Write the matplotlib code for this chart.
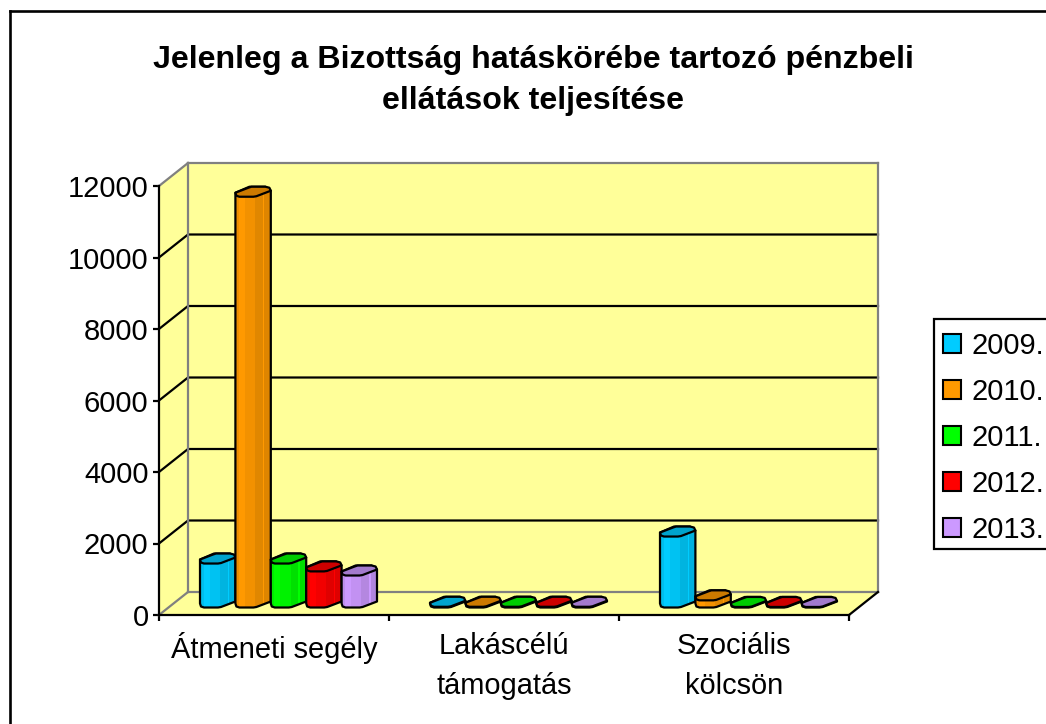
import matplotlib
matplotlib.use("Agg")
import matplotlib.pyplot as plt
import numpy as np
from matplotlib.lines import Line2D
from matplotlib.patches import Patch, Polygon, Rectangle

W, H = 1046, 724

CATEGORIES = ["Átmeneti segély", "Lakáscélú\ntámogatás", "Szociális\nkölcsön"]
YEARS = ["2009.", "2010.", "2011.", "2012.", "2013."]
V2009 = [1230, 20, 1985]
V2010 = [11490, 20, 200]
V2011 = [1230, 20, 15]
V2012 = [1010, 20, 15]
V2013 = [895, 20, 15]
YTICKS = [0, 2000, 4000, 6000, 8000, 10000, 12000]
TITLE = "Jelenleg a Bizottság hatáskörébe tartozó pénzbeli\nellátások teljesítése"

COLORS = ["#00CCFF", "#FF9900", "#00FF00", "#FF0000", "#CC99FF"]
WALL = "#FFFF99"
EDGE = "#808080"

plt.rcParams["font.family"] = ["Liberation Sans", "DejaVu Sans"]

fig = plt.figure(figsize=(W / 100, H / 100), dpi=100)
ax = fig.add_axes([159 / W, (H - 615) / H, 690 / W, 429 / H])
ax.set_xlim(0, 3)
ax.set_ylim(0, 12000)
ax.patch.set_visible(False)

# one pixel in data units, so depth and bar shapes can be given in pixels
PX = 3 / 690
PY = 12000 / 429
DX = 29 * PX
DY = 23 * PY
LW = 1.6


def wall(xs, ys, z=1):
    ax.add_patch(Polygon(list(zip(xs, ys)), closed=True, fc=WALL, ec="none", zorder=z, clip_on=False))


def line(xs, ys, color="black", lw=LW, z=2):
    ax.plot(xs, ys, color=color, lw=lw, zorder=z, clip_on=False, solid_capstyle="projecting")


wall([0, DX, DX, 0], [0, DY, 12000 + DY, 12000])
wall([DX, 3 + DX, 3 + DX, DX], [DY, DY, 12000 + DY, 12000 + DY])
wall([0, 3, 3 + DX, DX], [0, 0, DY, DY])

for v in YTICKS[1:-1]:
    line([0, DX, 3 + DX], [v, v + DY, v + DY])

line([DX, DX], [DY, 12000 + DY], EDGE)
line([DX, 3 + DX], [12000 + DY, 12000 + DY], EDGE)
line([3 + DX, 3 + DX], [DY, 12000 + DY], EDGE)
line([DX, 3 + DX], [DY, DY], EDGE)
line([0, DX], [12000, 12000 + DY], EDGE)
line([0, DX], [0, DY], EDGE)
line([3, 3 + DX], [0, DY])

# facets of the cylinder, as (start, end, brightness) over the bar width
STRIPES = [(0, .10, .93), (.10, .27, 1.0), (.27, .56, .95), (.56, .78, .88), (.78, .82, 1.0), (.82, 1, .87)]
BAR_W = 35.4
TOP = [(0, 0), (13, 5), (16, 6), (30, 6), (34, 5), (35.4, 2), (21, -3.5), (18, -4), (4, -4), (1, -3)]
BAR_LW = 1.6


def shade(color, k):
    return tuple(np.array(matplotlib.colors.to_rgb(color)) * k)


def cylinder(x0, value, color, z):
    base = DY / 2
    top_y = base + value
    body = [(x0, base), (x0 + 1 * PX, base - 3 * PY), (x0 + 4 * PX, base - 4 * PY), (x0 + 18 * PX, base - 4 * PY),
            (x0 + 21 * PX, base - 3.5 * PY), (x0 + BAR_W * PX, base + 2 * PY),
            (x0 + BAR_W * PX, top_y + 2 * PY), (x0 + 30 * PX, top_y + 6 * PY), (x0 + 14 * PX, top_y + 6 * PY), (x0, top_y)]
    outline = Polygon(body, closed=True, fc="none", ec="black", lw=BAR_LW, joinstyle="round", zorder=z + .2, clip_on=False)
    clip = Polygon(body, closed=True, transform=ax.transData)
    for a, b, k in STRIPES:
        r = Rectangle((x0 + a * BAR_W * PX, base - 6 * PY), (b - a) * BAR_W * PX, value + 16 * PY,
                      fc=shade(color, k), ec="none", zorder=z)
        ax.add_patch(r)
        r.set_clip_path(clip)
    ax.add_patch(outline)
    pts = [(x0 + px * PX, top_y + py * PY) for px, py in TOP]
    ax.add_patch(Polygon(pts, closed=True, fc=shade(color, .8), ec="black", lw=BAR_LW, joinstyle="round",
                         zorder=z + .3, clip_on=False))


SERIES = [V2009, V2010, V2011, V2012, V2013]
for i in range(len(CATEGORIES)):
    left = i + .5 + DX / 2 - 2.5 * BAR_W * PX
    for j, vals in enumerate(SERIES):
        cylinder(left + j * BAR_W * PX, vals[i], COLORS[j], 3 + j)

for s in ["top", "right"]:
    ax.spines[s].set_visible(False)
for s in ["left", "bottom"]:
    ax.spines[s].set_linewidth(LW)
    ax.spines[s].set_zorder(2.5)

ax.set_yticks(YTICKS)
ax.set_yticklabels([str(v) for v in YTICKS])
ax.set_xticks([0, 1, 2, 3])
ax.set_xticklabels([])
ax.set_xticks([.5, 1.5, 2.5], minor=True)
ax.set_xticklabels(CATEGORIES, minor=True, linespacing=1.54)
ax.tick_params(axis="y", labelsize=21, length=4.5, width=LW, pad=3)
ax.tick_params(axis="x", which="major", length=4.5, width=LW)
ax.tick_params(axis="x", which="minor", labelsize=20.9, length=0, pad=12)

fig.suptitle(TITLE, x=533 / W, y=1 - 45 / H, fontsize=23.1, fontweight="bold", va="top", linespacing=1.46)

# chart frame, only top and left fall inside the crop
fig.add_artist(Line2D([9.5 / W, 9.5 / W], [0, 1 - 11 / H], color="black", lw=1.9))
fig.add_artist(Line2D([9.5 / W, 1], [1 - 11 / H, 1 - 11 / H], color="black", lw=1.9))

# legend frame runs off the right edge like the reference
fig.add_artist(Rectangle((933.5 / W, 1 - 549 / H), 130 / W, 230 / H, fc="white", ec="black", lw=1.6,
                         transform=fig.transFigure))
handles = [Patch(fc=c, ec="black", lw=1.5) for c in COLORS]
leg = fig.legend(handles, YEARS, loc="upper left", bbox_to_anchor=(933.5 / W, 1 - 322 / H), bbox_transform=fig.transFigure,
                 fontsize=21, frameon=False, borderpad=.33, labelspacing=.622,
                 handlelength=.62, handleheight=.62, handletextpad=.36, borderaxespad=0)
leg.set_zorder(5)

fig.savefig("out.png", dpi=100)
